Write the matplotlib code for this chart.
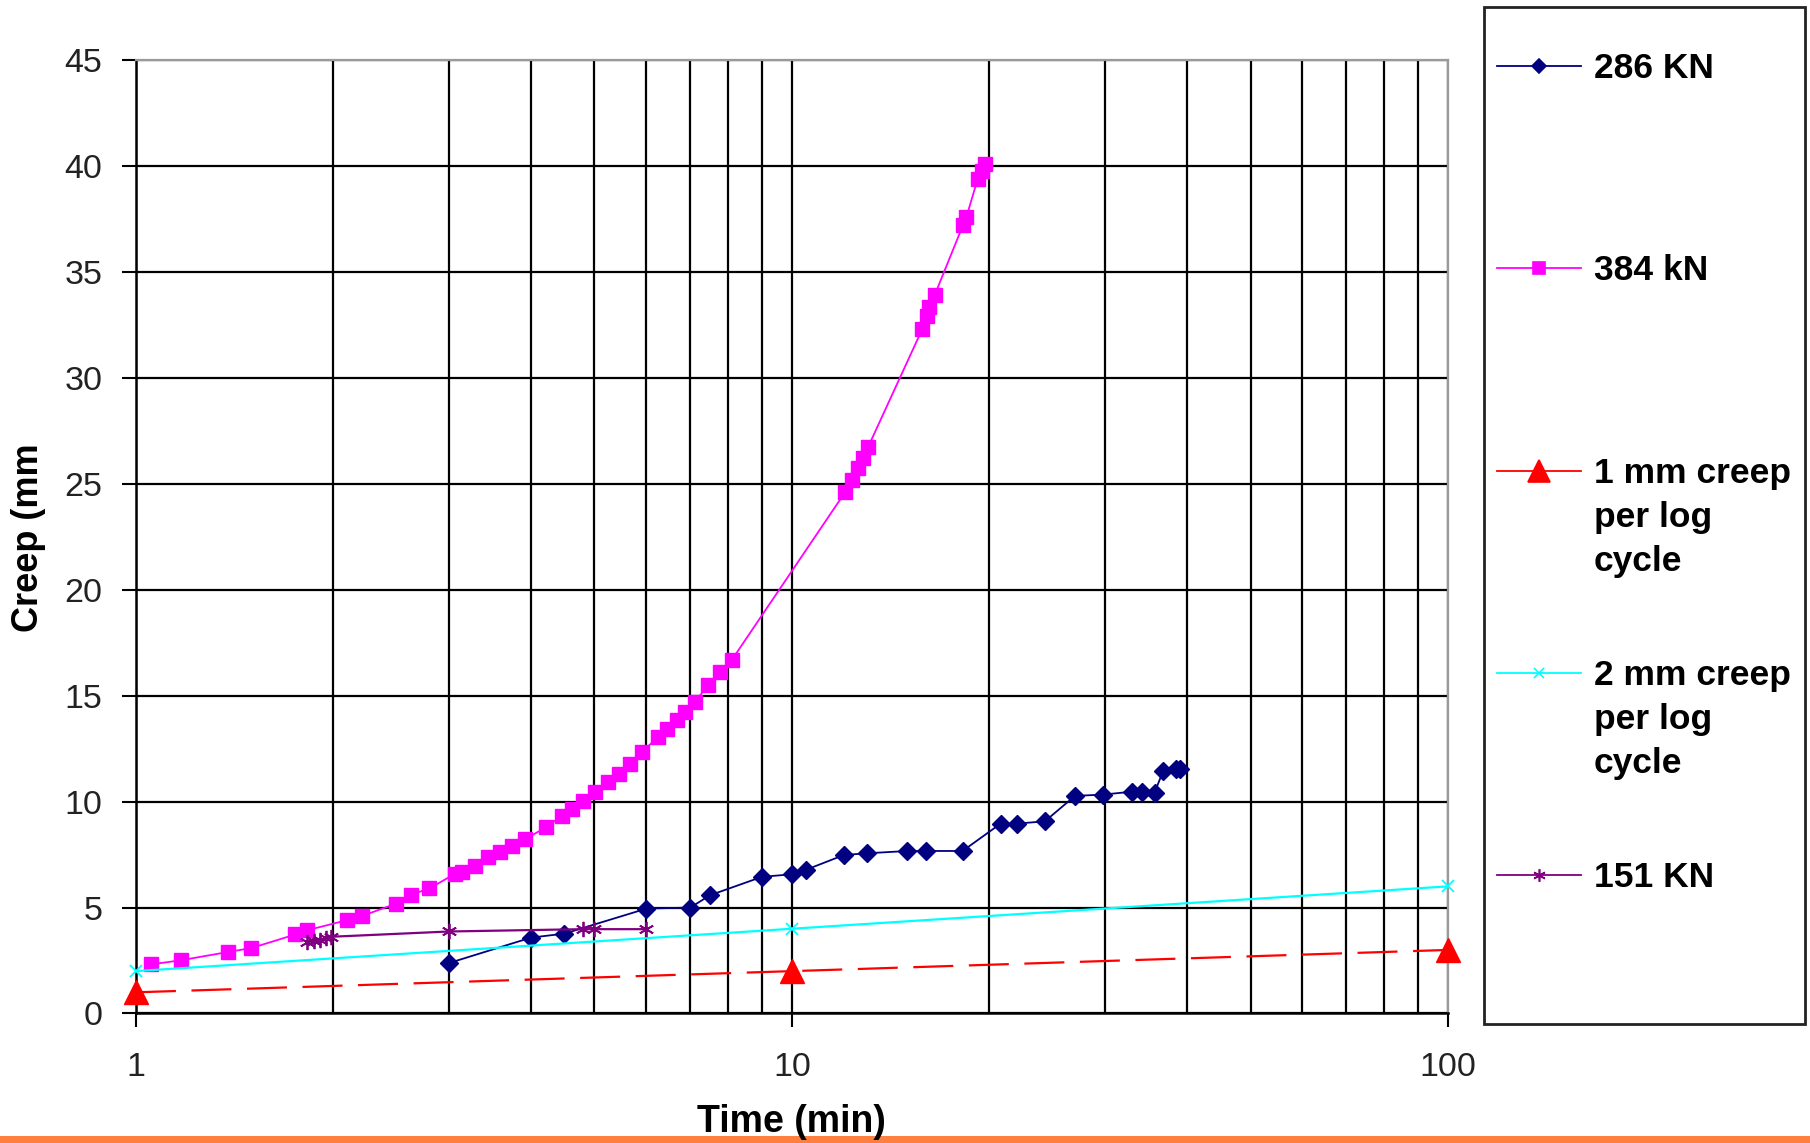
import matplotlib
matplotlib.use("Agg")
import matplotlib.pyplot as plt
from matplotlib.lines import Line2D
from matplotlib.patches import Rectangle
from matplotlib.ticker import FixedLocator, LogLocator, NullFormatter

plt.rcParams['font.family'] = ['Liberation Sans', 'DejaVu Sans']

# 384 kN
t_384 = [1.056, 1.17, 1.38, 1.50, 1.75, 1.82, 2.10, 2.21, 2.49, 2.63, 2.80, 3.06, 3.14, 3.29, 3.44,
         3.59, 3.74, 3.92, 4.22, 4.46, 4.62, 4.81, 5.01, 5.25, 5.44, 5.66, 5.90, 6.25, 6.44, 6.67,
         6.87, 7.11, 7.45, 7.77, 8.09, 12.05, 12.33, 12.62, 12.85, 13.07, 15.8, 16.05, 16.2, 16.5,
         18.24, 18.45, 19.2, 19.45, 19.7]
v_384 = [2.32, 2.51, 2.90, 3.09, 3.73, 3.92, 4.41, 4.60, 5.18, 5.61, 5.90, 6.58, 6.66, 6.97, 7.37,
         7.60, 7.92, 8.23, 8.79, 9.34, 9.65, 10.05, 10.44, 10.91, 11.31, 11.78, 12.33, 13.04, 13.44, 13.83,
         14.23, 14.70, 15.49, 16.12, 16.67, 24.6, 25.2, 25.75, 26.2, 26.75, 32.3, 32.9, 33.35, 33.9,
         37.23, 37.6, 39.4, 39.76, 40.07]

# 286 KN
t_286 = [3.0, 4.0, 4.5, 6.0, 7.0, 7.5, 9.0, 10.0, 10.5, 12.0, 13.0, 15.0, 16.0, 18.2, 20.8, 22.0,
         24.3, 27.0, 29.8, 33.0, 34.2, 35.7, 36.8, 38.5, 39.0]
v_286 = [2.38, 3.58, 3.77, 4.95, 5.0, 5.58, 6.45, 6.57, 6.78, 7.48, 7.56, 7.67, 7.67, 7.67, 8.96, 8.96,
         9.07, 10.27, 10.33, 10.47, 10.47, 10.42, 11.45, 11.56, 11.56]

# 151 KN
t_151 = [1.82, 1.87, 1.91, 1.95, 1.98, 3.0, 4.8, 5.0, 6.0]
v_151 = [3.38, 3.40, 3.46, 3.54, 3.62, 3.87, 3.98, 3.98, 3.98]

# reference lines
t_ref = [1, 10, 100]
v_1mm = [1, 2, 3]
v_2mm = [2, 4, 6]

fig = plt.figure(figsize=(18.1, 11.43), dpi=100)
ax = fig.add_axes([0.0751, 0.1133, 0.7249, 0.8342])

ax.plot(t_286, v_286, color='#000080', lw=1.3, marker='D', ms=9, mec='#000080', zorder=4)
ax.plot(t_384, v_384, color='#FF00FF', lw=1.3, marker='s', ms=10.5, mec='#FF00FF', zorder=4)
ax.plot(t_ref, v_1mm, color='#FF0000', lw=1.6, dashes=(18, 7), marker='^', ms=17, zorder=5,
        clip_on=False)
ax.plot(t_ref, v_2mm, color='#00FFFF', lw=1.6, marker='x', ms=9, mew=1.3, zorder=4, clip_on=False)
ax.plot(t_151, v_151, color='#800080', lw=1.6, marker=(6, 2, 0), ms=11, mew=1.3, zorder=4)

# 坐标轴
ax.set_xscale('log')
ax.set_xlim(1, 100)
ax.set_ylim(0, 45)
ax.set_yticks(range(0, 46, 5))
ax.xaxis.set_major_locator(FixedLocator([1, 10, 100]))
ax.set_xticklabels(['1', '10', '100'])
ax.xaxis.set_minor_locator(LogLocator(base=10, subs=range(2, 10)))
ax.xaxis.set_minor_formatter(NullFormatter())
ax.tick_params(axis='x', which='minor', length=0)
ax.tick_params(axis='both', which='major', length=10, width=1.5, labelsize=24.5,
               labelcolor='#222222', direction='out')
ax.tick_params(axis='x', which='major', pad=18)
ax.tick_params(axis='y', which='major', pad=14)

ax.grid(True, which='major', color='black', lw=1.6)
ax.grid(True, which='minor', axis='x', color='black', lw=1.6)
ax.set_axisbelow(True)
for s in ['left', 'bottom']:
    ax.spines[s].set_color('black')
    ax.spines[s].set_linewidth(1.8)
for s in ['top', 'right']:
    ax.spines[s].set_color('#9a9a9a')
    ax.spines[s].set_linewidth(1.6)

fig.text(0.016, 0.53, 'Creep (mm', rotation=90, ha='center', va='center',
         fontsize=26, fontweight='bold')
fig.text(0.4375, 0.0184, 'Time (min)', ha='center', va='center', fontsize=27, fontweight='bold')

# 图例（手动绘制）
fig.add_artist(Rectangle((0.820, 0.104), 0.177, 0.890, transform=fig.transFigure,
                         fill=False, edgecolor='#222222', lw=2))
legend_labels = ['286 KN', '384 kN', '1 mm creep\nper log\ncycle', '2 mm creep\nper log\ncycle', '151 KN']
legend_colors = ['#000080', '#FF00FF', '#FF0000', '#00FFFF', '#800080']
legend_markers = ['D', 's', '^', 'x', (6, 2, 0)]
legend_ms = [7, 8, 16, 7, 9]
legend_y = [0.9424, 0.7657, 0.5879, 0.4112, 0.2345]
line_step = 44 / 1143  # 行距（图坐标）
for label, color, marker, ms, y in zip(legend_labels, legend_colors, legend_markers, legend_ms, legend_y):
    fig.add_artist(Line2D([0.827, 0.8735], [y, y], transform=fig.transFigure, color=color, lw=1.3))
    fig.add_artist(Line2D([0.850], [y], transform=fig.transFigure, color=color, marker=marker,
                          ms=ms, mew=1.2, mec=color, mfc=color))
    n_lines = label.count('\n')
    fig.text(0.8807, y - 0.0105 - n_lines * line_step, label, ha='left', va='baseline',
             fontsize=25.5, fontweight='bold', linespacing=1.42)

# 底部橙色条
fig.add_artist(Rectangle((0, 0), 1, 0.006, transform=fig.transFigure, color='#FF7F3F', lw=0))

fig.savefig('out.png', dpi=100)
